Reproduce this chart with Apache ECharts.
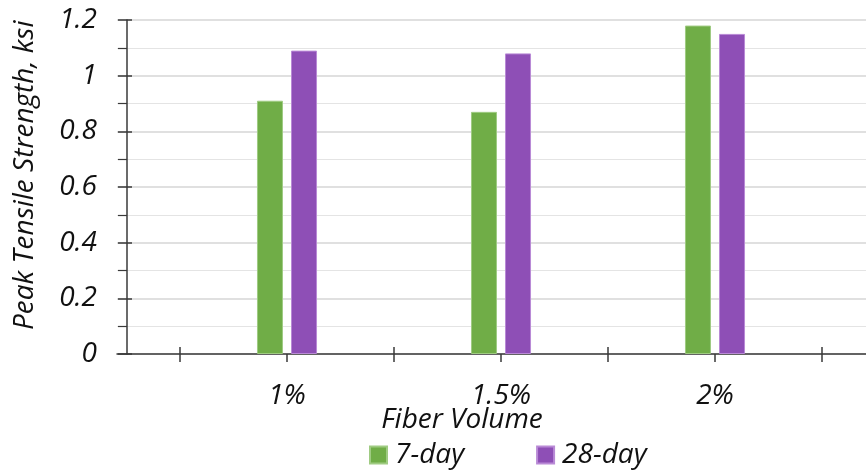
<!DOCTYPE html>
<html>
<head>
<meta charset="utf-8">
<script src="https://cdn.jsdelivr.net/npm/echarts@6/dist/echarts.min.js"></script>
<style>html,body{margin:0;padding:0;background:#fff}#c{width:866px;height:472px}</style>
</head>
<body>
<div id="c"></div>
<script>
const categories = ['1%', '1.5%', '2%'];
const sevenDay = [0.91, 0.87, 1.18];
const twentyEightDay = [1.09, 1.08, 1.15];
const seriesNames = ['7-day', '28-day'];
const yMin = 0, yMax = 1.2, yStep = 0.2;
const xTitle = 'Fiber Volume';
const yTitle = 'Peak Tensile Strength, ksi';

const FONT = 'Open Sans';
const txt = { fontFamily: FONT, fontStyle: 'italic', color: '#111' };
const axisColor = '#3a3a3a';

const chart = echarts.init(document.getElementById('c'), null, { renderer: 'canvas' });
const hiddenCat = (inside, align) => ({
  type: 'category', gridIndex: 0, position: 'bottom', data: categories,
  axisLine: { show: false },
  axisTick: { show: true, inside: inside, length: inside ? 7 : 8, alignWithLabel: align, lineStyle: { color: axisColor, width: 1.5 } },
  axisLabel: { show: false }, splitLine: { show: false }
});
chart.setOption({
  animation: false,
  backgroundColor: '#fff',
  grid: [
    { left: 180, right: 44, top: 20, bottom: 118 },
    { left: 117, right: 0, top: 20, bottom: 118 }
  ],
  xAxis: [
    {
      type: 'category', gridIndex: 0, position: 'bottom', data: categories,
      axisLine: { show: false },
      axisTick: { show: true, inside: false, length: 8, alignWithLabel: false, lineStyle: { color: axisColor, width: 1.5 } },
      axisLabel: Object.assign({ fontSize: 28, margin: 28, interval: 0 }, txt),
      splitLine: { show: false }
    },
    hiddenCat(true, false),
    hiddenCat(false, true),
    {
      type: 'value', gridIndex: 1, min: 0, max: 1, position: 'bottom',
      axisLine: { show: true, onZero: false, lineStyle: { color: axisColor, width: 1.5 } },
      axisTick: { show: false }, axisLabel: { show: false }, splitLine: { show: false }
    }
  ],
  yAxis: [
    { type: 'value', gridIndex: 0, min: yMin, max: yMax, interval: yStep, show: false },
    {
      type: 'value', gridIndex: 1, min: yMin, max: yMax, interval: yStep, position: 'left', offset: -10,
      axisLine: { show: true, onZero: false, lineStyle: { color: axisColor, width: 1.5 } },
      axisTick: { show: true, inside: false, length: 9, lineStyle: { color: axisColor, width: 1.5 } },
      minorTick: { show: true, splitNumber: 2, length: 9, lineStyle: { color: axisColor, width: 1.2 } },
      axisLabel: Object.assign({ fontSize: 28, margin: 30 }, txt),
      splitLine: { show: true, lineStyle: { color: '#d6d6d6', width: 1.5 } },
      minorSplitLine: { show: true, lineStyle: { color: '#e4e4e4', width: 1.2 } }
    },
    {
      type: 'value', gridIndex: 1, min: yMin, max: yMax, interval: yStep, position: 'left', offset: -10,
      axisLine: { show: false, onZero: false },
      axisTick: { show: true, inside: true, length: 5, lineStyle: { color: axisColor, width: 1.5 } },
      axisLabel: { show: false }, splitLine: { show: false }
    }
  ],
  legend: {
    data: seriesNames, left: 364, top: 436, orient: 'horizontal',
    icon: 'rect', itemWidth: 17, itemHeight: 17, itemGap: 72,
    textStyle: Object.assign({ fontSize: 28, padding: [0, 0, 0, 3] }, txt)
  },
  graphic: [
    { type: 'text', x: 462, y: 420, style: { text: xTitle, font: 'italic 28px "' + FONT + '"', fill: '#111', textAlign: 'center', textVerticalAlign: 'middle' } },
    { type: 'text', x: 11, y: 330, rotation: Math.PI / 2, style: { text: yTitle, font: 'italic 28px "' + FONT + '"', fill: '#111', textAlign: 'left', textVerticalAlign: 'top' } }
  ],
  series: [
    {
      name: seriesNames[0], type: 'bar', xAxisIndex: 0, yAxisIndex: 0, data: sevenDay,
      barWidth: 26, barGap: '31%',
      itemStyle: { color: '#70ad47', borderColor: '#9fcb82', borderWidth: 1 }
    },
    {
      name: seriesNames[1], type: 'bar', xAxisIndex: 0, yAxisIndex: 0, data: twentyEightDay,
      barWidth: 26, barGap: '31%',
      itemStyle: { color: '#8e4fb6', borderColor: '#b98ad6', borderWidth: 1 }
    }
  ]
});
</script>
</body>
</html>
